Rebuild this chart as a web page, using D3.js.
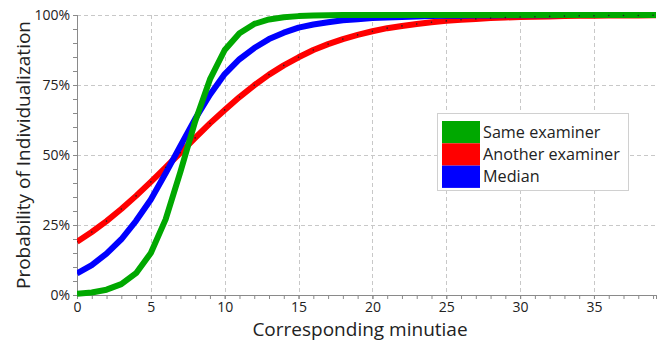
<!DOCTYPE html>
<html>
<head>
<meta charset="utf-8">
<script src="https://cdn.jsdelivr.net/npm/d3@7"></script>
<style>
  body { margin: 0; background: #fff; }
  svg text { font-family: "Open Sans", sans-serif; fill: #222; }
</style>
</head>
<body>
<div id="chart"></div>
<script>
// values, in percent, for 0..40 corresponding minutiae
var minutiae = d3.range(0, 41)
var sameExaminer = [0.4, 0.9, 1.9, 3.9, 7.8, 15, 27, 44, 62, 77, 87.5, 93.5, 96.8, 98.4, 99.2, 99.6, 99.8, 99.9,
	100, 100, 100, 100, 100, 100, 100, 100, 100, 100, 100, 100, 100, 100, 100, 100, 100, 100, 100, 100, 100, 100, 100]
var anotherExaminer = [19, 22.5, 26.4, 30.7, 35.4, 40.4, 45.6, 50.8, 56.1, 61.3, 66.1, 70.7, 74.9, 78.7, 82, 84.9,
	87.5, 89.6, 91.4, 92.9, 94.2, 95.3, 96.1, 96.8, 97.4, 97.9, 98.3, 98.6, 98.9, 99.1, 99.3, 99.4, 99.5, 99.6,
	99.7, 99.7, 99.8, 99.8, 99.8, 99.9, 99.9]
var median = [7.7, 10.7, 14.8, 19.9, 26.5, 34.1, 43.5, 53.2, 62.9, 71.5, 78.9, 84.2, 88.2, 91.4, 93.7, 95.5,
	96.6, 97.4, 98.1, 98.5, 98.9, 99.1, 99.3, 99.5, 99.6, 99.7, 99.75, 99.8, 99.85, 99.9, 99.9, 99.9, 99.95,
	100, 100, 100, 100, 100, 100, 100, 100]
var seriesNames = ["Same examiner", "Another examiner", "Median"]
var xTicks = [0, 5, 10, 15, 20, 25, 30, 35]
var yTicks = [0, 25, 50, 75, 100]

var colors = {"Same examiner": "#00a800", "Another examiner": "#ff0000", "Median": "#0000ff"}

var margin = {top: 15, right: 1, bottom: 46, left: 77}
var W = 657, H = 341
var width = W - margin.left - margin.right
var height = H - margin.top - margin.bottom

var svg = d3.select("#chart").append("svg")
	.attr("width", W)
	.attr("height", H)

var g = svg.append("g")
	.attr("transform", "translate(" + margin.left + "," + margin.top + ")")

var x = d3.scaleLinear().domain([0, 39.2]).range([0, width])
var y = d3.scaleLinear().domain([0, 100]).range([height, 0])

// grid
g.append("g").selectAll("line").data(yTicks.filter(d => d > 0)).enter().append("line")
	.attr("x1", 0).attr("x2", width)
	.attr("y1", d => y(d) + 0.5).attr("y2", d => y(d) + 0.5)
	.attr("stroke", "#c8c8c8").attr("stroke-dasharray", "4,3")
g.append("g").selectAll("line").data(xTicks.filter(d => d > 0)).enter().append("line")
	.attr("x1", d => Math.round(x(d)) + 0.5).attr("x2", d => Math.round(x(d)) + 0.5)
	.attr("y1", 0).attr("y2", height)
	.attr("stroke", "#c8c8c8").attr("stroke-dasharray", "4,3")

// axes (minor ticks first, then labelled ones)
var xMinor = g.append("g").attr("transform", "translate(0," + height + ")")
	.call(d3.axisBottom(x).tickValues(d3.range(0, 40)).tickSize(4))
xMinor.selectAll(".tick text").remove()
var xAxis = g.append("g").attr("transform", "translate(0," + height + ")")
	.call(d3.axisBottom(x).tickValues(xTicks).tickSize(4).tickFormat(d3.format("d")))
var yMinor = g.append("g")
	.call(d3.axisLeft(y).tickValues(d3.range(0, 101, 5)).tickSize(4))
yMinor.selectAll(".tick text").remove()
var yAxis = g.append("g")
	.call(d3.axisLeft(y).tickValues(yTicks).tickSize(4).tickFormat(d => d + "%"))
g.selectAll(".domain").attr("stroke", "#8a8a8a")
g.selectAll(".tick line").attr("stroke", "#8a8a8a")
g.selectAll(".tick text").attr("font-size", 14).attr("font-family", "Open Sans").attr("fill", "#222")
xAxis.selectAll(".tick text").attr("dy", "0.72em")
yAxis.selectAll(".tick text").attr("x", -7)

// lines
svg.append("clipPath").attr("id", "clip").append("rect")
	.attr("x", 0).attr("y", -10).attr("width", width).attr("height", height + 20)

var series = [
	{name: "Another examiner", values: anotherExaminer},
	{name: "Median", values: median},
	{name: "Same examiner", values: sameExaminer}
]
var line = d3.line()
	.x((d, i) => x(minutiae[i]))
	.y(d => y(d))

var plot = g.append("g").attr("clip-path", "url(#clip)")
plot.selectAll(".series").data(series).enter().append("path")
	.attr("class", "series")
	.attr("d", d => line(d.values))
	.attr("fill", "none")
	.attr("stroke", d => colors[d.name])
	.attr("stroke-width", 6)
	.attr("stroke-linejoin", "round")

// small markers on the red series
plot.selectAll(".dot").data(anotherExaminer).enter().append("circle")
	.attr("class", "dot")
	.attr("cx", (d, i) => x(minutiae[i]))
	.attr("cy", d => y(d))
	.attr("r", 0.8)
	.attr("fill", "#222")

// axis titles
svg.append("text")
	.attr("x", 360).attr("y", 336)
	.attr("text-anchor", "middle")
	.attr("font-size", 19)
	.text("Corresponding minutiae")
svg.append("text")
	.attr("transform", "translate(30,155) rotate(-90)")
	.attr("text-anchor", "middle")
	.attr("font-size", 19)
	.text("Probability of Individualization")

// legend
var legend = svg.append("g").attr("transform", "translate(437,113)")
legend.append("rect")
	.attr("x", 0.5).attr("y", 0.5).attr("width", 191).attr("height", 77)
	.attr("fill", "#fff").attr("stroke", "#d0d0d0")
var items = legend.selectAll(".item").data(seriesNames).enter().append("g")
	.attr("transform", (d, i) => "translate(5," + (8 + i * 22.3) + ")")
items.append("rect")
	.attr("width", 38).attr("height", 22.3)
	.attr("fill", d => colors[d])
items.append("text")
	.attr("x", 41).attr("y", 16.5)
	.attr("font-size", 16.2)
	.attr("fill", "#111")
	.text(d => d)
</script>
</body>
</html>
